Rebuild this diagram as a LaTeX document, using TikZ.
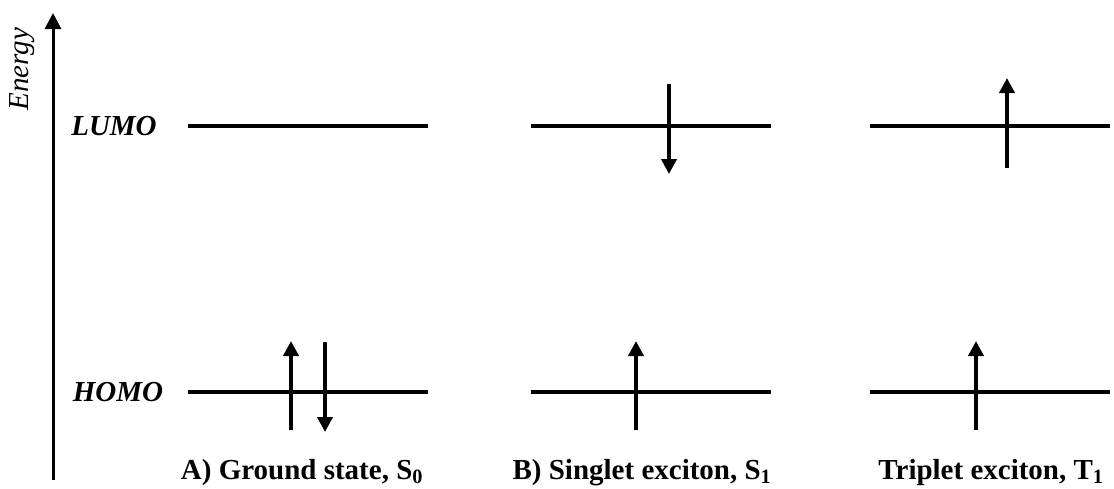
\documentclass[tikz,border=0pt]{standalone}
\usepackage{fontspec}
\setmainfont{Liberation Serif}
\usetikzlibrary{arrows.meta}
\begin{document}
\begin{tikzpicture}[
        x=1pt, y=-1pt,
        level/.style={line width=3.5pt},
        spin/.style={line width=4pt, -{Triangle[width=15pt,length=15pt]}},
        axis/.style={line width=3pt, -{Triangle[width=16pt,length=16pt]}},
        orbital/.style={font=\fontsize{29}{31}\selectfont\bfseries\itshape},
        caption/.style={font=\fontsize{29}{31}\selectfont\bfseries, anchor=base}
    ]
        \useasboundingbox (0,0) rectangle (1114,488);

        % Energy axis
        \coordinate (axisbot) at (53,480);
        \coordinate (axistop) at (53,13);
        \draw[axis] (axisbot) -- (axistop);
        \node[rotate=90, font=\fontsize{29}{31}\selectfont\itshape] (energy) at (22,69) {Energy};

        % Orbital names
        \node[orbital] (lumo) at (114,126) {LUMO};
        \node[orbital] (homo) at (118,392) {HOMO};

        % Levels of the three states
        \foreach \st/\xa in {gs/188, si/531, tr/870} {
            \coordinate (\st-lumo-w) at (\xa,126);
            \coordinate (\st-lumo-e) at (\xa+240,126);
            \coordinate (\st-homo-w) at (\xa,392);
            \coordinate (\st-homo-e) at (\xa+240,392);
            \draw[level] (\st-lumo-w) -- (\st-lumo-e);
            \draw[level] (\st-homo-w) -- (\st-homo-e);
        }

        % Electron spins
        \coordinate (gs-up-a) at (291,430);
        \coordinate (gs-up-b) at (291,341);
        \coordinate (gs-dn-a) at (325,342);
        \coordinate (gs-dn-b) at (325,432);
        \coordinate (si-dn-a) at (669,84);
        \coordinate (si-dn-b) at (669,174);
        \coordinate (si-up-a) at (636,430);
        \coordinate (si-up-b) at (636,341);
        \coordinate (tr-hi-a) at (1007,168);
        \coordinate (tr-hi-b) at (1007,78);
        \coordinate (tr-up-a) at (976,430);
        \coordinate (tr-up-b) at (976,341);
        \draw[spin] (gs-up-a) -- (gs-up-b);
        \draw[spin] (gs-dn-a) -- (gs-dn-b);
        \draw[spin] (si-dn-a) -- (si-dn-b);
        \draw[spin] (si-up-a) -- (si-up-b);
        \draw[spin] (tr-hi-a) -- (tr-hi-b);
        \draw[spin] (tr-up-a) -- (tr-up-b);

        % State captions
        \node[caption] (ground) at (302,479) {A) Ground state, S\textsubscript{0}};
        \node[caption] (singlet) at (642,479) {B) Singlet exciton, S\textsubscript{1}};
        \node[caption] (triplet) at (991,479) {Triplet exciton, T\textsubscript{1}};

    \end{tikzpicture}
\end{document}
